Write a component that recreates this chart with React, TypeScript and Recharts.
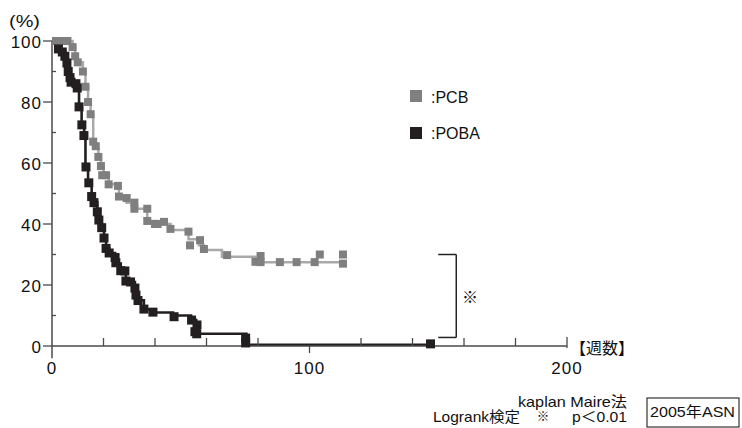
import React from 'react';
import { ComposedChart, Line, Scatter, XAxis, YAxis, ReferenceLine } from 'recharts';

// ---- data ----
const xTicks = [0, 20, 40, 60, 80, 100, 120, 140, 160, 180, 200];
const xLabels = [0, 100, 200];
const yTicks = [0, 10, 20, 30, 40, 50, 60, 70, 80, 90, 100];
const yLabels = [0, 20, 40, 60, 80, 100];

// PCB step curve (weeks, survival %)
const pcbCurve = [
  { x: 0, y: 100 }, { x: 7, y: 100 }, { x: 8, y: 98 }, { x: 9, y: 95 }, { x: 10, y: 93 },
  { x: 12, y: 90 }, { x: 13, y: 85 }, { x: 14, y: 80 }, { x: 15, y: 76 }, { x: 16, y: 67 },
  { x: 17, y: 65 }, { x: 18, y: 62 }, { x: 19, y: 59 }, { x: 20, y: 56 }, { x: 22, y: 53 },
  { x: 26, y: 49 }, { x: 29, y: 47 }, { x: 32, y: 45 }, { x: 37, y: 41 }, { x: 41, y: 40 },
  { x: 46, y: 38 }, { x: 53, y: 35 }, { x: 57, y: 33 }, { x: 59, y: 31.5 }, { x: 66, y: 29.3 },
  { x: 79, y: 27.5 }, { x: 113, y: 27.5 },
];
// PCB marks
const pcbMarks = [
  { x: 1, y: 100 }, { x: 3, y: 100 }, { x: 5, y: 100 }, { x: 6, y: 100 }, { x: 8, y: 98 },
  { x: 9, y: 95 }, { x: 10, y: 93 }, { x: 12, y: 90 }, { x: 13, y: 85 }, { x: 14, y: 80 },
  { x: 15, y: 76 }, { x: 16, y: 67 }, { x: 17, y: 65.5 }, { x: 18, y: 62 }, { x: 19, y: 59 },
  { x: 19.5, y: 56 }, { x: 21, y: 56 }, { x: 22, y: 53 }, { x: 25.6, y: 52.5 }, { x: 26, y: 49 },
  { x: 29, y: 48.5 }, { x: 32, y: 47 }, { x: 32, y: 45 }, { x: 37, y: 45 }, { x: 37, y: 41 },
  { x: 40, y: 40 }, { x: 41, y: 40 }, { x: 43.5, y: 40.7 }, { x: 46, y: 38.4 }, { x: 53, y: 37.5 },
  { x: 53.6, y: 33 }, { x: 57.5, y: 34.7 }, { x: 59, y: 31.8 }, { x: 68, y: 29.8 }, { x: 79, y: 27.6 },
  { x: 81, y: 29.5 }, { x: 81, y: 27.5 }, { x: 88.5, y: 27.5 }, { x: 95, y: 27.5 }, { x: 102, y: 27.5 },
  { x: 104, y: 30 }, { x: 113, y: 30 }, { x: 113, y: 27 },
];

// POBA step curve
const pobaCurve = [
  { x: 0, y: 100 }, { x: 2, y: 100 }, { x: 2.5, y: 97 }, { x: 4, y: 96 }, { x: 5, y: 95 },
  { x: 6, y: 92.5 }, { x: 6.5, y: 90 }, { x: 7, y: 88 }, { x: 7.5, y: 86 }, { x: 9.5, y: 85 },
  { x: 10, y: 84 }, { x: 10.5, y: 78 }, { x: 11.5, y: 72 }, { x: 12.5, y: 69 }, { x: 13, y: 59 },
  { x: 14, y: 53.5 }, { x: 15.4, y: 49 }, { x: 16.3, y: 47 }, { x: 17.6, y: 44 }, { x: 18.2, y: 41 },
  { x: 19.3, y: 38.8 }, { x: 20.2, y: 35.4 }, { x: 21, y: 32 }, { x: 22.2, y: 30.5 }, { x: 24.5, y: 29 },
  { x: 25, y: 27 }, { x: 26.7, y: 24.7 }, { x: 28.7, y: 21.3 }, { x: 30.5, y: 21 }, { x: 32.2, y: 19 },
  { x: 32.6, y: 16.7 }, { x: 33.4, y: 15 }, { x: 35.7, y: 12 }, { x: 39, y: 11 }, { x: 47, y: 10 },
  { x: 54, y: 8.5 }, { x: 56, y: 6 }, { x: 57, y: 4 }, { x: 75.5, y: 0.4 }, { x: 147, y: 0.4 },
];
// POBA marks
const pobaMarks = [
  { x: 2.5, y: 97.4 }, { x: 4, y: 96.4 }, { x: 5, y: 95 }, { x: 5.8, y: 92.8 }, { x: 6.3, y: 90 },
  { x: 7, y: 88 }, { x: 7.4, y: 86.5 }, { x: 9.3, y: 86 }, { x: 9.8, y: 84.6 }, { x: 10.5, y: 78.4 },
  { x: 11.6, y: 72.5 }, { x: 12.4, y: 69 }, { x: 13.2, y: 58.7 }, { x: 14.3, y: 53.5 }, { x: 15.4, y: 49 },
  { x: 16.3, y: 47 }, { x: 17.6, y: 44 }, { x: 18.2, y: 41.3 }, { x: 19.3, y: 38.8 }, { x: 20.2, y: 35.4 },
  { x: 21, y: 32 }, { x: 22.2, y: 30.5 }, { x: 24.5, y: 29 }, { x: 24.8, y: 27.3 }, { x: 26.7, y: 24.7 },
  { x: 28.3, y: 24.6 }, { x: 28.7, y: 21.3 }, { x: 30.5, y: 21 }, { x: 32.2, y: 19 }, { x: 32.6, y: 16.7 },
  { x: 33.4, y: 14.9 }, { x: 35.7, y: 12.1 }, { x: 39.2, y: 11.1 }, { x: 47.4, y: 9.6 }, { x: 54.2, y: 8.5 },
  { x: 56.3, y: 6.9 }, { x: 55.5, y: 4.7 }, { x: 56.2, y: 4 }, { x: 75.2, y: 2.6 }, { x: 75.2, y: 1 },
  { x: 147, y: 0.7 },
];

const bracketX = 157;
const bracketLeft = 150;
const bracketTop = 30;
const bracketBottom = 2.8;

const AXIS = '#4a4a4a';
const GRAY_MARK = '#7f7f7f';
const GRAY_LINE = '#a9a9a9';
const BLACK = '#231f20';
const FONT = '"Liberation Sans", Arial, "Noto Sans CJK JP", sans-serif';

const XTick = (props: any) => {
  const { x, y, payload } = props;
  const v = payload.value;
  const major = xLabels.includes(v);
  return (
    <g>
      {v === 100 && <line x1={x} x2={x} y1={y} y2={y + 7} stroke={AXIS} strokeWidth={1.3} />}
      {v === 200 && <line x1={x} x2={x} y1={y - 9} y2={y + 2} stroke={AXIS} strokeWidth={1.3} />}
      {v !== 0 && v !== 100 && v !== 200 && (
        <line x1={x} x2={x} y1={y - 8} y2={y} stroke={AXIS} strokeWidth={1.3} />
      )}
      {major && (
        <text x={x} y={y + 28} textAnchor="middle" fontSize={17} letterSpacing={1} fill="#111" fontFamily={FONT}>
          {v}
        </text>
      )}
    </g>
  );
};

const YTick = (props: any) => {
  const { x, y, payload } = props;
  const v = payload.value;
  const major = yLabels.includes(v);
  return (
    <g>
      {major ? (
        <line x1={x - 9} x2={x} y1={y} y2={y} stroke={AXIS} strokeWidth={1.3} />
      ) : (
        <line x1={x} x2={x + 4} y1={y} y2={y} stroke={AXIS} strokeWidth={1.3} />
      )}
      {major && (
        <text x={x - 10} y={y + 6.5} textAnchor="end" fontSize={17} letterSpacing={1} fill="#111" fontFamily={FONT}>
          {v}
        </text>
      )}
    </g>
  );
};

const square = (size: number, color: string) => (props: any) => {
  const { cx, cy } = props;
  if (cx == null || cy == null) return <g />;
  return <rect x={cx - size / 2} y={cy - size / 2} width={size} height={size} fill={color} />;
};

export default function App() {
  return (
    <div style={{ position: 'absolute', left: 0, top: 0, width: 742, height: 428, background: '#fff', fontFamily: FONT }}>
      <ComposedChart width={742} height={428} margin={{ top: 41, right: 175, bottom: 52, left: 12 }}>
        <XAxis
          type="number"
          dataKey="x"
          domain={[0, 200]}
          ticks={xTicks}
          tick={<XTick />}
          tickLine={false}
          tickSize={0}
          tickMargin={0}
          height={30}
          axisLine={{ stroke: AXIS, strokeWidth: 1.5 }}
          allowDataOverflow
          interval={0}
        />
        <YAxis
          type="number"
          dataKey="y"
          domain={[0, 100]}
          ticks={yTicks}
          tick={<YTick />}
          tickLine={false}
          tickSize={0}
          tickMargin={0}
          width={40}
          axisLine={{ stroke: AXIS, strokeWidth: 1.5 }}
          interval={0}
        />
        <ReferenceLine
          segment={[{ x: 0, y: 0 }, { x: 0, y: -4 }]}
          stroke={AXIS}
          strokeWidth={1.5}
          ifOverflow="visible"
        />
        <Line
          data={pcbCurve}
          dataKey="y"
          type="stepAfter"
          stroke={GRAY_LINE}
          strokeWidth={2.5}
          dot={false}
          isAnimationActive={false}
        />
        <Scatter data={pcbMarks} fill={GRAY_MARK} shape={square(8, GRAY_MARK)} isAnimationActive={false} />
        <Line
          data={pobaCurve}
          dataKey="y"
          type="stepAfter"
          stroke={BLACK}
          strokeWidth={2.6}
          dot={false}
          isAnimationActive={false}
        />
        <Scatter data={pobaMarks} fill={BLACK} shape={square(9, BLACK)} isAnimationActive={false} />
        <ReferenceLine
          segment={[{ x: bracketLeft, y: bracketTop }, { x: bracketX, y: bracketTop }]}
          stroke="#222"
          strokeWidth={1.5}
          ifOverflow="visible"
        />
        <ReferenceLine
          segment={[{ x: bracketX, y: bracketTop }, { x: bracketX, y: bracketBottom }]}
          stroke="#222"
          strokeWidth={1.5}
          ifOverflow="visible"
        />
        <ReferenceLine
          segment={[{ x: bracketLeft, y: bracketBottom }, { x: bracketX, y: bracketBottom }]}
          stroke="#222"
          strokeWidth={1.5}
          ifOverflow="visible"
        />
      </ComposedChart>
      <svg
        width={742}
        height={428}
        style={{ position: 'absolute', left: 0, top: 0, pointerEvents: 'none' }}
        fontFamily={FONT}
      >
        <text x={9} y={27} fontSize={16} textLength={31} lengthAdjust="spacingAndGlyphs" fill="#111">(%)</text>
        <rect x={410} y={90} width={12} height={12} fill={GRAY_MARK} />
        <text x={431} y={103} fontSize={16} fill="#111">:PCB</text>
        <rect x={410} y={127} width={12} height={12} fill={BLACK} />
        <text x={431} y={139} fontSize={16} fill="#111">:POBA</text>
        <text x={470} y={303} fontSize={16} textAnchor="middle" fill="#111">※</text>
        <text x={570} y={354} fontSize={16} fill="#111">【週数】</text>
        <text x={518} y={407} fontSize={14.5} textLength={109} lengthAdjust="spacingAndGlyphs" fill="#111">kaplan Maire法</text>
        <text x={433} y={422} fontSize={14.5} textLength={87} lengthAdjust="spacingAndGlyphs" fill="#111">Logrank検定</text>
        <text x={543} y={421} fontSize={12.5} textAnchor="middle" fill="#111">※</text>
        <text x={572} y={422} fontSize={14.5} textLength={55} lengthAdjust="spacingAndGlyphs" fill="#111">p＜0.01</text>
        <rect x={647} y={398} width={92} height={29} fill="none" stroke="#333" strokeWidth={1.2} />
        <text x={650} y={417} fontSize={15} textLength={85} lengthAdjust="spacingAndGlyphs" fill="#111">2005年ASN</text>
      </svg>
    </div>
  );
}
